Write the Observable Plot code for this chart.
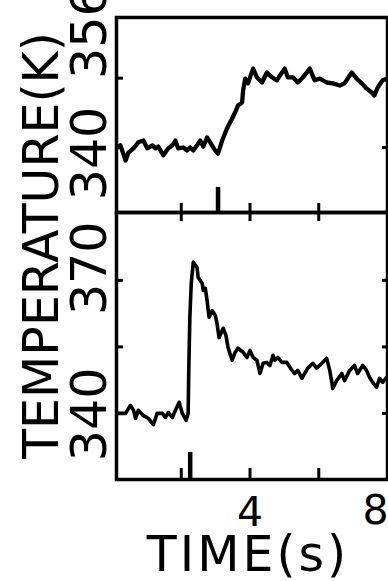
<!DOCTYPE html>
<html><head><meta charset="utf-8">
<script src="https://cdn.jsdelivr.net/npm/d3@7"></script>
<script src="https://cdn.jsdelivr.net/npm/@observablehq/plot@0.6"></script>
<style>
html,body{margin:0;padding:0;background:#fff;}
#chart{position:relative;width:388px;height:581px;overflow:hidden;background:#fff;}
#chart svg{position:absolute;left:0;top:0;}
</style></head><body><div id="chart"></div>
<script>
// ---- data (time in s, temperature in K) ----
const topTime = [0.14,0.23,0.38,0.46,0.61,0.75,0.90,1.01,1.16,1.25,1.33,1.48,1.62,1.74,1.83,1.91,2.06,2.17,2.26,2.35,2.46,2.55,2.64,2.75,2.84,2.99,3.07,3.19,3.33,3.48,3.59,3.65,3.77,3.80,3.86,3.94,4.09,4.20,4.35,4.49,4.64,4.78,4.87,5.01,5.10,5.25,5.39,5.54,5.74,5.88,6.03,6.23,6.41,6.61,6.75,6.96,7.10,7.25,7.39,7.54,7.62,7.71,7.86,8.00];
const topTemp = [340.0,340.5,337.0,338.8,339.8,341.2,341.6,339.8,340.5,339.8,340.2,338.2,339.8,340.5,341.6,339.8,340.0,339.3,340.0,339.3,340.5,341.6,340.2,342.3,341.2,339.3,338.6,341.6,344.4,346.7,348.5,349.7,350.4,353.2,355.9,354.8,358.2,356.2,355.0,357.3,356.2,355.5,356.6,358.2,356.2,356.2,355.0,356.2,358.2,355.5,355.9,355.0,354.8,354.3,354.8,357.3,355.9,354.8,353.6,352.7,352.0,353.8,355.5,355.9];
const bottomTime = [0.17,0.38,0.52,0.61,0.67,0.75,0.90,1.04,1.19,1.30,1.45,1.54,1.62,1.74,1.83,1.94,2.03,2.14,2.20,2.22,2.25,2.29,2.35,2.46,2.49,2.61,2.64,2.70,2.75,2.81,2.90,2.99,3.04,3.10,3.22,3.30,3.36,3.48,3.57,3.65,3.80,3.91,4.00,4.09,4.20,4.29,4.38,4.49,4.58,4.67,4.72,4.81,4.93,5.07,5.22,5.30,5.39,5.51,5.59,5.68,5.83,5.94,6.09,6.23,6.32,6.41,6.52,6.67,6.75,6.90,7.04,7.13,7.28,7.39,7.48,7.57,7.68,7.77,7.86,7.97];
const bottomTemp = [340.0,340.0,341.8,340.7,338.9,340.7,339.5,338.9,337.5,340.0,340.0,339.1,340.2,339.1,340.7,342.5,340.0,338.4,340.0,350.4,361.7,369.3,374.1,372.9,370.7,369.3,367.7,368.2,365.5,361.7,363.2,362.1,360.3,357.1,359.2,357.6,354.9,352.0,353.8,354.7,353.8,352.6,354.2,352.6,352.0,349.0,351.3,351.5,350.8,353.1,352.0,352.6,351.5,351.5,349.7,349.0,349.7,347.9,349.0,350.2,351.3,350.2,351.3,352.4,349.7,345.6,347.4,349.0,347.4,349.7,350.8,349.0,350.8,349.7,348.1,347.0,345.9,347.9,347.0,348.1];
const timeTicks = [2, 4, 6];
const timeTickLabels = ["4", "8"];
const timeTickLabelValues = [4, 8];
const topTempTicks = [340, 356];
const topTempTicksRight = [340];
const topTempLabels = ["340", "356"];
const bottomTempTicks = [340, 355, 370];
const bottomTempLabelValues = [340, 370];
const bottomTempLabels = ["340", "370"];
const topStimulus = [3.07];
const bottomStimulus = [2.26];
const yTitle = "TEMPERATURE(K)";
const xTitle = "TIME(s)";

// ---- layout ----
const W = 388, H = 581, ML = 116, MR = 1;
const topY0 = 17, midY = 212, botY1 = 479;
const plotW = W - ML - MR;
const topH = midY - topY0, botH = botY1 - midY;
const font = "DejaVu Sans";
const k = "black";

const topSeries = topTime.map((t, i) => ({t, T: topTemp[i]}));
const bottomSeries = bottomTime.map((t, i) => ({t, T: bottomTemp[i]}));

const topPlot = Plot.plot({
  width: W, height: H,
  marginLeft: ML, marginRight: MR, marginTop: topY0, marginBottom: H - midY,
  x: {domain: [0.116, 8], axis: null},
  y: {domain: [325, 370], axis: null},
  style: {background: "none", fontFamily: font, color: k},
  marks: [
    Plot.frame({stroke: k, strokeWidth: 3.5}),
    Plot.line(topSeries, {x: "t", y: "T", stroke: k, strokeWidth: 4.3, strokeLinejoin: "round", strokeLinecap: "round"}),
    Plot.tickX(timeTicks, {x: d => d, insetTop: topH - 9, stroke: k, strokeWidth: 3}),
    Plot.tickX(topStimulus, {x: d => d, insetTop: topH - 25, stroke: k, strokeWidth: 4.5}),
    Plot.tickY(topTempTicks, {y: d => d, insetRight: plotW - 7, stroke: k, strokeWidth: 3}),
    Plot.tickY(topTempTicksRight, {y: d => d, insetLeft: plotW - 5, stroke: k, strokeWidth: 3}),
    Plot.text([0], {y: i => topTempTicks[0], text: i => topTempLabels[0], frameAnchor: "left", rotate: -90, lineAnchor: "bottom", textAnchor: "middle", dx: -11, dy: 6, fontSize: 49, fill: k}),
    Plot.text([1], {y: i => topTempTicks[1], text: i => topTempLabels[1], frameAnchor: "left", rotate: -90, lineAnchor: "bottom", textAnchor: "middle", dx: -11, dy: -46, fontSize: 49, fill: k}),
    Plot.text([yTitle], {text: d => d, frameAnchor: "left", rotate: -90, lineAnchor: "bottom", textAnchor: "middle", dx: -59, dy: 245 - (topY0 + topH / 2), fontSize: 49, fill: k})
  ]
});

const bottomPlot = Plot.plot({
  width: W, height: H,
  marginLeft: ML, marginRight: MR, marginTop: midY, marginBottom: H - botY1,
  x: {domain: [0.116, 8], axis: null},
  y: {domain: [325.1, 385.3], axis: null},
  style: {background: "none", fontFamily: font, color: k},
  marks: [
    Plot.frame({stroke: k, strokeWidth: 3.5}),
    Plot.line(bottomSeries, {x: "t", y: "T", stroke: k, strokeWidth: 3.6, strokeLinejoin: "round", strokeLinecap: "round"}),
    Plot.tickX(timeTicks, {x: d => d, insetBottom: botH - 9, stroke: k, strokeWidth: 3}),
    Plot.tickX(timeTicks, {x: d => d, insetTop: botH - 11, stroke: k, strokeWidth: 3}),
    Plot.tickX(bottomStimulus, {x: d => d, insetTop: botH - 27, stroke: k, strokeWidth: 4.5}),
    Plot.tickY(bottomTempTicks, {y: d => d, insetRight: plotW - 7, stroke: k, strokeWidth: 3}),
    Plot.tickY(bottomTempTicks, {y: d => d, insetLeft: plotW - 5, stroke: k, strokeWidth: 3}),
    Plot.text([0], {y: i => bottomTempLabelValues[0], text: i => bottomTempLabels[0], frameAnchor: "left", rotate: -90, lineAnchor: "bottom", textAnchor: "middle", dx: -11, dy: 1, fontSize: 49, fill: k}),
    Plot.text([1], {y: i => bottomTempLabelValues[1], text: i => bottomTempLabels[1], frameAnchor: "left", rotate: -90, lineAnchor: "bottom", textAnchor: "middle", dx: -11, dy: -12, fontSize: 49, fill: k}),
    Plot.text([0], {x: i => timeTickLabelValues[0], text: i => timeTickLabels[0], frameAnchor: "bottom", lineAnchor: "top", textAnchor: "middle", dy: 17, fontSize: 41, fill: k}),
    Plot.text([1], {x: i => timeTickLabelValues[1], text: i => timeTickLabels[1], frameAnchor: "bottom", lineAnchor: "top", textAnchor: "middle", dx: -12, dy: 15, fontSize: 41, fill: k}),
    Plot.text([xTitle], {text: d => d, frameAnchor: "bottom", lineAnchor: "bottom", textAnchor: "middle", dx: -4, dy: 91, fontSize: 49, fill: k})
  ]
});

d3.select(bottomPlot).selectAll("text").filter(function () { return this.textContent === xTitle; }).attr("letter-spacing", 3);

const chart = document.getElementById("chart");
chart.appendChild(bottomPlot);
chart.appendChild(topPlot);
</script>
</body></html>
